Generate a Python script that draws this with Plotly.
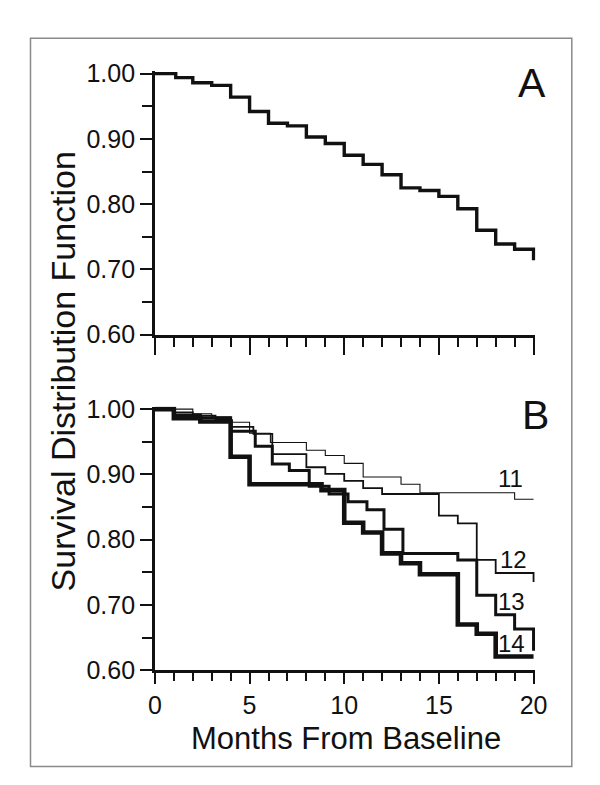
import plotly.graph_objects as go

# ---------------- data ----------------
months_A = [0, 1.1, 2, 3, 4, 5, 6, 7, 8, 9, 10, 11, 12, 13, 14, 15, 16, 17, 18, 19, 20, 20]
surv_A = [1.000, 0.994, 0.986, 0.982, 0.964, 0.942, 0.924, 0.920, 0.903, 0.893, 0.875,
          0.861, 0.845, 0.825, 0.821, 0.812, 0.793, 0.760, 0.739, 0.731, 0.731, 0.714]

months_11 = [0, 2, 3, 4, 5, 6.1, 8, 9, 10, 11, 13, 14, 19, 20]
surv_11 = [1.000, 0.993, 0.988, 0.980, 0.963, 0.949, 0.937, 0.929, 0.917, 0.896, 0.885, 0.872, 0.862, 0.862]

months_12 = [0, 1, 2, 3.2, 4, 5.2, 6.2, 8, 9, 10, 11, 12, 15, 16, 17, 18, 20, 20]
surv_12 = [1.000, 0.995, 0.990, 0.984, 0.973, 0.962, 0.931, 0.911, 0.901, 0.890, 0.879,
           0.870, 0.837, 0.825, 0.769, 0.749, 0.749, 0.735]

months_13 = [0, 1, 2.4, 4, 5.3, 6.2, 7.1, 8.15, 9.2, 10.2, 11.2, 12.1, 13.1, 16, 17, 18, 19, 20, 20]
surv_13 = [1.000, 0.991, 0.987, 0.966, 0.943, 0.916, 0.906, 0.882, 0.870, 0.858, 0.846,
           0.816, 0.779, 0.769, 0.715, 0.685, 0.663, 0.663, 0.630]

months_14 = [0, 1, 2.4, 4, 5, 8.8, 10, 11, 12, 13, 14, 16, 17, 18, 20]
surv_14 = [1.000, 0.986, 0.981, 0.927, 0.885, 0.876, 0.826, 0.811, 0.779, 0.764, 0.747,
           0.670, 0.656, 0.621, 0.621]

curve_names = ["11", "12", "13", "14"]
x_title = "Months From Baseline"
y_title = "Survival Distribution Function"
panel_labels = ["A", "B"]

# ---------------- figure ----------------
FONT = "Liberation Sans, Arial, sans-serif"
INK = "#111111"

fig = go.Figure()

fig.add_trace(go.Scatter(x=months_A, y=surv_A, mode="lines", line_shape="hv",
                         line=dict(color=INK, width=3.4), xaxis="x", yaxis="y",
                         showlegend=False, hoverinfo="skip"))

series_B = [(months_11, surv_11, 1.1), (months_12, surv_12, 1.8),
            (months_13, surv_13, 3.0), (months_14, surv_14, 4.6)]
for mx, sv, w in series_B:
    fig.add_trace(go.Scatter(x=mx, y=sv, mode="lines", line_shape="hv",
                             line=dict(color=INK, width=w), xaxis="x2", yaxis="y2",
                             showlegend=False, hoverinfo="skip"))

xdom = [144.5 / 600, (144.5 + 20.1 * 19.55) / 600]
ydomA = [(785 - 325.5) / 785, (785 - 52.8) / 785]
ydomB = [(785 - 672.5) / 785, (785 - 399.8) / 785]

common_x = dict(range=[0, 20.1], domain=xdom, showgrid=False, zeroline=False,
                showline=True, linecolor=INK, linewidth=2.6, ticks="outside",
                tickcolor=INK, tickwidth=2.2, tick0=0, dtick=5,
                tickfont=dict(family=FONT, size=25, color=INK))
common_y = dict(range=[0.6, 1.004], showgrid=False, zeroline=False,
                showline=True, linecolor=INK, linewidth=2.6, ticks="outside",
                tickcolor=INK, tickwidth=2.2, ticklen=12, tick0=0.6, dtick=0.1,
                tickformat=".2f", tickfont=dict(family=FONT, size=25, color=INK),
                minor=dict(dtick=0.05, tick0=0.6, ticklen=10, tickwidth=2.2,
                           tickcolor=INK, ticks="outside", showgrid=False))

fig.update_layout(
    width=600, height=785, autosize=False,
    margin=dict(l=0, r=0, t=0, b=0),
    paper_bgcolor="white", plot_bgcolor="white",
    xaxis=dict(common_x, anchor="y", showticklabels=False, ticklen=17,
               minor=dict(dtick=1, tick0=0, ticklen=9, tickwidth=2.2, tickcolor=INK,
                          ticks="outside", showgrid=False)),
    yaxis=dict(common_y, domain=ydomA, anchor="x"),
    xaxis2=dict(common_x, anchor="y2", showticklabels=True, ticklen=11,
                minor=dict(dtick=1, tick0=0, ticklen=8, tickwidth=2.2, tickcolor=INK,
                           ticks="outside", showgrid=False)),
    yaxis2=dict(common_y, domain=ydomB, anchor="x2"),
)

ann = []
ann.append(dict(text=y_title, x=50 / 600, y=(785 - 363) / 785, xref="paper", yref="paper",
                textangle=-90, showarrow=False, xanchor="center", yanchor="middle",
                font=dict(family=FONT, size=34, color=INK)))
ann.append(dict(text=x_title, x=341.5 / 600, y=(785 - 743) / 785, xref="paper", yref="paper",
                showarrow=False, xanchor="center", yanchor="middle",
                font=dict(family=FONT, size=31, color=INK)))
for lab, (cx, cy) in zip(panel_labels, [(534, 65), (538, 409)]):
    ann.append(dict(text=lab, x=cx / 600, y=(785 - cy) / 785, xref="paper", yref="paper",
                    showarrow=False, xanchor="center", yanchor="middle",
                    font=dict(family=FONT, size=41, color=INK)))
for name, (cx, cy) in zip(curve_names, [(512, 474), (515, 558), (513, 601), (513, 645)]):
    ann.append(dict(text=name, x=cx / 600, y=(785 - cy) / 785, xref="paper", yref="paper",
                    showarrow=False, xanchor="center", yanchor="middle",
                    font=dict(family=FONT, size=24, color=INK)))
fig.update_layout(annotations=ann)

fig.add_shape(type="rect", xref="paper", yref="paper",
              x0=16 / 600, x1=575 / 600, y0=(785 - 772) / 785, y1=(785 - 19) / 785,
              line=dict(color="#8a8a8a", width=1.5), fillcolor="rgba(0,0,0,0)", layer="below")

fig.write_html("out.html")
